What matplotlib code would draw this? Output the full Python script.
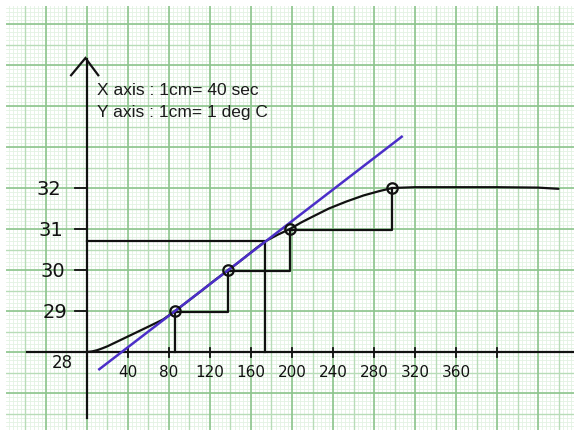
import numpy as np
import matplotlib
matplotlib.use("Agg")
import matplotlib.pyplot as plt

# ---- data ----
point_time = [86, 138, 198, 298]          # sec
point_temp = [29, 30, 31, 32]             # deg C

curve_time = [0, 5, 10, 15, 20, 30, 40, 50, 60, 74, 86, 99, 112, 125, 138, 147, 156, 165,
              174, 186, 198, 209, 220, 236, 253, 270, 286, 298, 320, 360, 400, 440, 460]
curve_temp = [28.0, 28.015, 28.045, 28.09, 28.14, 28.26, 28.38, 28.5, 28.62, 28.79, 29.0,
              29.25, 29.5, 29.76, 30.0, 30.17, 30.35, 30.53, 30.7, 30.86, 31.0, 31.16, 31.3,
              31.5, 31.67, 31.82, 31.93, 32.0, 32.02, 32.02, 32.02, 32.01, 31.98]

tangent_time = [12, 307]
tangent_temp = [27.58, 33.25]

read_time = 174      # sec, where tangent meets the curve
read_temp = 30.7     # deg C

xtick_values = [40, 80, 120, 160, 200, 240, 280, 320, 360, 400]
xtick_labels = ["40", "80", "120", "160", "200", "240", "280", "320", "360", ""]
ytick_values = [29, 30, 31, 32]
ytick_labels = ["29", "30", "31", "32"]
origin_label = "28"
note_lines = ["X axis : 1cm= 40 sec", "Y axis : 1cm= 1 deg C"]

# ---- figure ----
W, H = 574, 430
fig = plt.figure(figsize=(W / 100, H / 100), dpi=100)
fig.patch.set_facecolor("white")
ax = fig.add_axes([6 / W, 0, (W - 6) / W, (H - 6) / H])
ax.set_facecolor("white")

x0, x1 = -79.0, 475.1
y0, y1 = 26.098, 36.439
ax.set_xlim(x0, x1)
ax.set_ylim(y0, y1)
for s in ax.spines.values():
    s.set_visible(False)
ax.set_xticks([])
ax.set_yticks([])

# graph paper
minor_c, mid_c, major_c = "#e3f2e3", "#b8dcb8", "#8cc48c"
for t in np.arange(-80, 480, 4):
    ax.axvline(t, color=minor_c, lw=0.6, zorder=0)
for v in np.arange(26, 37, 0.1):
    ax.axhline(v, color=minor_c, lw=0.6, zorder=0)
for t in np.arange(-60, 480, 40):
    ax.axvline(t, color=mid_c, lw=1.0, zorder=0.1)
for v in np.arange(25.5, 37, 1.0):
    ax.axhline(v, color=mid_c, lw=1.0, zorder=0.1)
for t in np.arange(-80, 480, 40):
    ax.axvline(t, color=major_c, lw=1.2, zorder=0.2)
for v in np.arange(26, 37, 1.0):
    ax.axhline(v, color=major_c, lw=1.2, zorder=0.2)

ink = "#111111"
lw = 1.6

# axes lines
ax.plot([0, 0], [26.39, 35.15], color=ink, lw=lw, zorder=3)
ax.plot([-58.5, x1], [28, 28], color=ink, lw=lw, zorder=3)
# arrow head
ax.plot([-15.5, -1.5, 11.0], [34.75, 35.17, 34.75], color=ink, lw=lw, zorder=3,
        solid_joinstyle="miter")

# ticks
for t in xtick_values:
    ax.plot([t, t], [28.1, 27.88], color=ink, lw=1.3, zorder=3)
for v in ytick_values:
    ax.plot([-11.7, 0], [v, v], color=ink, lw=1.3, zorder=3)

# tick labels
for t, lab in zip(xtick_values, xtick_labels):
    ax.text(t, 27.5, lab, ha="center", va="center", fontsize=11, color=ink)
ylab_x = [-31, -33, -35, -36.7]
for xx, v, lab in zip(ylab_x, ytick_values, ytick_labels):
    ax.text(xx, v - 0.03, lab, ha="center", va="center", fontsize=14, color=ink)
ax.text(-24, 27.73, origin_label, ha="center", va="center", fontsize=12, color=ink)

# notes
ax.text(9.8, 34.27, note_lines[0], ha="left", va="baseline", fontsize=12.5,
        family="Liberation Sans", color="#1a1a1a")
ax.text(9.8, 33.73, note_lines[1], ha="left", va="baseline", fontsize=12.5,
        family="Liberation Sans", color="#1a1a1a")

# curve
ax.plot(curve_time, curve_temp, color=ink, lw=lw, zorder=4, solid_capstyle="round",
        solid_joinstyle="round")

# tangent
ax.plot(tangent_time, tangent_temp, color="#4b2fc8", lw=1.8, zorder=5)

# reading lines
ax.plot([0, read_time, read_time], [read_temp, read_temp, 28], color=ink, lw=lw, zorder=3)

# step construction
ax.plot([point_time[0], point_time[0]], [28, point_temp[0]], color=ink, lw=lw, zorder=3)
for i in range(len(point_time) - 1):
    ax.plot([point_time[i], point_time[i + 1], point_time[i + 1]],
            [point_temp[i] - 0.02, point_temp[i] - 0.02, point_temp[i + 1]],
            color=ink, lw=lw, zorder=3)

# data points
ax.plot(point_time, point_temp, "o", ms=7.5, mfc="none", mec=ink, mew=1.6, zorder=6)

fig.savefig("out.png", dpi=100, facecolor="white")
